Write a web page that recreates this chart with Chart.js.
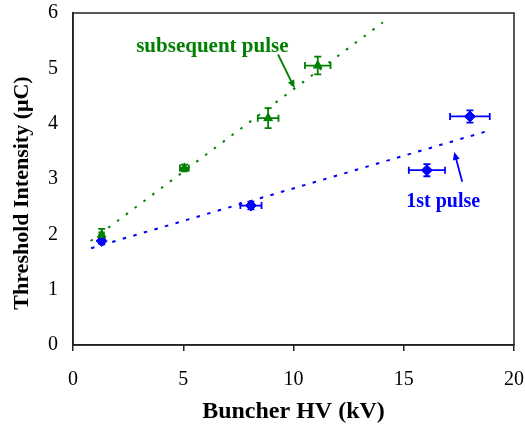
<!DOCTYPE html>
<html><head><meta charset="utf-8">
<script src="https://cdn.jsdelivr.net/npm/chart.js@4/dist/chart.umd.min.js"></script>
<style>html,body{margin:0;padding:0;background:#fff;}</style>
</head><body>
<canvas id="c" width="525" height="433" style="width:525px;height:433px;display:block"></canvas>
<script>
// ---- data ----
const subsequentX = [1.3, 5.05, 8.85, 11.1];
const subsequentY = [1.99, 3.2, 4.1, 5.05];
const subsequentXErr = [0.1, 0.2, 0.47, 0.58];
const subsequentYErr = [0.11, 0.06, 0.18, 0.16];

const firstX = [1.3, 8.07, 16.05, 18.0];
const firstY = [1.88, 2.52, 3.16, 4.13];
const firstXErr = [0.1, 0.48, 0.82, 0.9];
const firstYErr = [0.05, 0.07, 0.11, 0.11];

const subsequentTrendX = [0.8, 14.05];
const subsequentTrendY = [1.88, 5.83];
const firstTrendX = [0.82, 18.74];
const firstTrendY = [1.75, 3.86];

const xTicks = [0, 5, 10, 15, 20];
const yTicks = [0, 1, 2, 3, 4, 5, 6];

const xTitle = 'Buncher HV (kV)';
const yTitle = 'Threshold Intensity (\u03BCC)';
const subsequentLabel = 'subsequent pulse';
const firstLabel = '1st pulse';
// annotation anchors / arrows in data units
const subsequentLabelAt = [6.32, 5.3];
const subsequentArrow = [[9.3, 5.25], [10.05, 4.64]];
const firstLabelAt = [16.79, 2.5];
const firstArrow = [[17.65, 2.95], [17.29, 3.49]];

const GREEN = '#008000';
const BLUE = '#0000ff';
const SERIF = '"Liberation Serif", "Times New Roman", serif';

const pts = (xs, ys) => xs.map((x, i) => ({x: x, y: ys[i]}));

const errorBars = {
  id: 'errorBars',
  beforeDatasetsDraw(chart) {
    const {ctx, scales: {x, y}} = chart;
    const sets = [
      [subsequentX, subsequentY, subsequentXErr, subsequentYErr, GREEN],
      [firstX, firstY, firstXErr, firstYErr, BLUE]
    ];
    ctx.save();
    ctx.lineWidth = 1.8;
    sets.forEach(([xs, ys, xe, ye, col]) => {
      ctx.strokeStyle = col;
      xs.forEach((v, i) => {
        const px = x.getPixelForValue(v), py = y.getPixelForValue(ys[i]);
        const x1 = x.getPixelForValue(v - xe[i]), x2 = x.getPixelForValue(v + xe[i]);
        const y1 = y.getPixelForValue(ys[i] + ye[i]), y2 = y.getPixelForValue(ys[i] - ye[i]);
        const c = 3.5;
        ctx.beginPath();
        ctx.moveTo(x1, py); ctx.lineTo(x2, py);
        ctx.moveTo(x1, py - c); ctx.lineTo(x1, py + c);
        ctx.moveTo(x2, py - c); ctx.lineTo(x2, py + c);
        ctx.moveTo(px, y1); ctx.lineTo(px, y2);
        ctx.moveTo(px - c, y1); ctx.lineTo(px + c, y1);
        ctx.moveTo(px - c, y2); ctx.lineTo(px + c, y2);
        ctx.stroke();
      });
    });
    ctx.restore();
  }
};

function arrow(ctx, x, y, from, to, col) {
  const ax = x.getPixelForValue(from[0]), ay = y.getPixelForValue(from[1]);
  const bx = x.getPixelForValue(to[0]), by = y.getPixelForValue(to[1]);
  const ang = Math.atan2(by - ay, bx - ax);
  const h = 8, w = 3.5;
  ctx.strokeStyle = col; ctx.fillStyle = col; ctx.lineWidth = 1.8;
  ctx.beginPath();
  ctx.moveTo(ax, ay);
  ctx.lineTo(bx - Math.cos(ang) * h * 0.8, by - Math.sin(ang) * h * 0.8);
  ctx.stroke();
  ctx.beginPath();
  ctx.moveTo(bx, by);
  ctx.lineTo(bx - Math.cos(ang) * h - Math.sin(ang) * w, by - Math.sin(ang) * h + Math.cos(ang) * w);
  ctx.lineTo(bx - Math.cos(ang) * h + Math.sin(ang) * w, by - Math.sin(ang) * h - Math.cos(ang) * w);
  ctx.closePath();
  ctx.fill();
}

const decorations = {
  id: 'decorations',
  afterDraw(chart) {
    const {ctx, chartArea: a, scales: {x, y}} = chart;
    ctx.save();
    // plot frame
    ctx.strokeStyle = '#222';
    ctx.lineWidth = 1.5;
    ctx.strokeRect(a.left, a.top, a.right - a.left, a.bottom - a.top);
    // annotations
    ctx.font = 'bold 21px ' + SERIF;
    ctx.textAlign = 'center';
    ctx.textBaseline = 'alphabetic';
    ctx.fillStyle = GREEN;
    ctx.fillText(subsequentLabel, x.getPixelForValue(subsequentLabelAt[0]), y.getPixelForValue(subsequentLabelAt[1]));
    ctx.font = 'bold 20px ' + SERIF;
    ctx.fillStyle = BLUE;
    ctx.fillText(firstLabel, x.getPixelForValue(firstLabelAt[0]), y.getPixelForValue(firstLabelAt[1]));
    arrow(ctx, x, y, subsequentArrow[0], subsequentArrow[1], GREEN);
    arrow(ctx, x, y, firstArrow[0], firstArrow[1], BLUE);
    // y axis title
    ctx.fillStyle = '#000';
    ctx.font = 'bold 22px ' + SERIF;
    ctx.translate(28, (a.top + a.bottom) / 2 + 14);
    ctx.rotate(-Math.PI / 2);
    ctx.textAlign = 'center';
    ctx.textBaseline = 'alphabetic';
    ctx.fillText(yTitle, 0, 0);
    ctx.restore();
  }
};

new Chart(document.getElementById('c'), {
  type: 'scatter',
  data: {
    datasets: [
      {
        label: 'subsequent trend', data: pts(subsequentTrendX, subsequentTrendY), showLine: true,
        borderColor: GREEN, borderWidth: 2, borderDash: [2.5, 8.5], pointRadius: 0, fill: false
      },
      {
        label: '1st trend', data: pts(firstTrendX, firstTrendY), showLine: true,
        borderColor: BLUE, borderWidth: 2, borderDash: [3.5, 7.5], pointRadius: 0, fill: false
      },
      {
        label: subsequentLabel, data: pts(subsequentX, subsequentY), pointStyle: 'triangle',
        pointRadius: 5, backgroundColor: GREEN, borderColor: GREEN, borderWidth: 1
      },
      {
        label: firstLabel, data: pts(firstX, firstY), pointStyle: 'rectRot',
        pointRadius: 5.5, backgroundColor: BLUE, borderColor: BLUE, borderWidth: 1
      }
    ]
  },
  options: {
    responsive: false,
    animation: false,
    devicePixelRatio: 1,
    layout: {padding: {top: 13, right: 11, left: 0, bottom: 0}},
    plugins: {legend: {display: false}, tooltip: {enabled: false}},
    scales: {
      x: {
        type: 'linear', min: 0, max: 20,
        afterBuildTicks: s => { s.ticks = xTicks.map(v => ({value: v})); },
        afterFit: s => { s.height = 88; s.paddingLeft = 0; s.paddingRight = 0; },
        grid: {drawOnChartArea: false, drawTicks: true, tickLength: 6, color: '#222', lineWidth: 1.5},
        border: {display: true, color: '#222', width: 1.5},
        ticks: {font: {family: SERIF, size: 20}, color: '#000', padding: 17, maxRotation: 0},
        title: {display: true, text: xTitle, font: {family: SERIF, size: 24, weight: 'bold'}, color: '#000', padding: {top: 0, bottom: 7}}
      },
      y: {
        type: 'linear', min: 0, max: 6,
        afterBuildTicks: s => { s.ticks = yTicks.map(v => ({value: v})); },
        afterFit: s => { s.width = 73; s.paddingTop = 0; s.paddingBottom = 0; },
        grid: {drawOnChartArea: false, drawTicks: false},
        border: {display: true, color: '#222', width: 1.5},
        ticks: {font: {family: SERIF, size: 20}, color: '#000', padding: 15}
      }
    }
  },
  plugins: [errorBars, decorations]
});
</script>
</body></html>
